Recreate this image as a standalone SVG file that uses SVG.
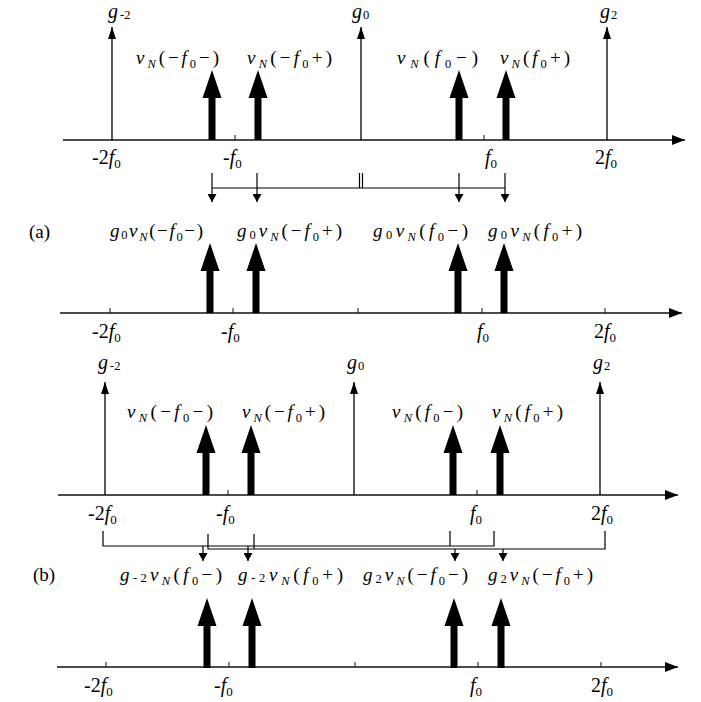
<svg xmlns="http://www.w3.org/2000/svg" xmlns:xlink="http://www.w3.org/1999/xlink" width="701" height="702" viewBox="0 0 701 702">
<style>
.ax{stroke:#111;stroke-width:1.3;fill:none}
.th{stroke:#000;stroke-width:1.3;fill:none}
.tk{stroke:#111;stroke-width:1;fill:none}
.cn{stroke:#000;stroke-width:1.2;fill:none}
text{font-family:"Liberation Serif","Times New Roman",serif;font-size:19px;fill:#000}
.g{font-size:20px}
.a{font-size:20px}
.i{font-style:italic}
.s{font-size:12.5px}
.s2{font-size:13px}
</style>
<defs>
<marker id="mAx" markerUnits="userSpaceOnUse" markerWidth="13" markerHeight="10" refX="13" refY="5" orient="auto"><path d="M0,0 L13,5 L0,10 Z" fill="#000"/></marker>
<marker id="mTh" markerUnits="userSpaceOnUse" markerWidth="12" markerHeight="8" refX="12" refY="4" orient="auto"><path d="M0,0 L12,4 L0,8 Z" fill="#000"/></marker>
<marker id="mDn" markerUnits="userSpaceOnUse" markerWidth="8" markerHeight="9" refX="8" refY="4.5" orient="auto"><path d="M0,0 L8,4.5 L0,9 Z" fill="#000"/></marker>
<path id="big" d="M0,0 L9.5,28 L3.5,28 L3.5,70 L-3.5,70 L-3.5,28 L-9.5,28 Z" fill="#000"/>
</defs>

<!-- ===== Panel 1 (top) ===== -->
<g id="axis1">
<line class="ax" x1="63" y1="140" x2="685" y2="140" marker-end="url(#mAx)"/>
<line class="tk" x1="235" y1="135" x2="235" y2="140"/>
<line class="tk" x1="484" y1="135" x2="484" y2="140"/>
<text class="a" x="92" y="164"><tspan>-2</tspan><tspan class="i">f</tspan><tspan class="s2" dy="4">0</tspan></text>
<text class="a" x="223" y="164"><tspan>-</tspan><tspan class="i">f</tspan><tspan class="s2" dy="4">0</tspan></text>
<text class="a" x="485" y="164"><tspan class="i">f</tspan><tspan class="s2" dy="4">0</tspan></text>
<text class="a" x="595" y="164"><tspan>2</tspan><tspan class="i">f</tspan><tspan class="s2" dy="4">0</tspan></text>
</g>
<g id="p1-gm2">
<line class="th" x1="112" y1="140" x2="112" y2="27" marker-end="url(#mTh)"/>
<text x="108" y="18"><tspan class="g i">g</tspan><tspan class="s" dx="2" dy="1">-2</tspan></text>
</g>
<g id="p1-g0">
<line class="th" x1="361" y1="140" x2="361" y2="27" marker-end="url(#mTh)"/>
<text x="352" y="18"><tspan class="g i">g</tspan><tspan class="s" dx="1" dy="1">0</tspan></text>
</g>
<g id="p1-g2">
<line class="th" x1="607" y1="140" x2="607" y2="27" marker-end="url(#mTh)"/>
<text x="600" y="18"><tspan class="g i">g</tspan><tspan class="s" dx="1" dy="1">2</tspan></text>
</g>
<g id="p1-vmm">
<use xlink:href="#big" x="212" y="70"/>
<text x="136" y="64" textLength="83"><tspan class="i">v</tspan><tspan class="s i" dy="4">N</tspan><tspan dy="-4">(−</tspan><tspan class="i">f</tspan><tspan class="s" dy="4">0</tspan><tspan dy="-4">−)</tspan></text>
</g>
<g id="p1-vmp">
<use xlink:href="#big" x="258" y="70"/>
<text x="247" y="64" textLength="85"><tspan class="i">v</tspan><tspan class="s i" dy="4">N</tspan><tspan dy="-4">(−</tspan><tspan class="i">f</tspan><tspan class="s" dy="4">0</tspan><tspan dy="-4">+)</tspan></text>
</g>
<g id="p1-vpm">
<use xlink:href="#big" x="459" y="70"/>
<text x="397" y="64" textLength="81"><tspan class="i">v</tspan><tspan class="s i" dy="4">N</tspan><tspan dy="-4">(</tspan><tspan class="i">f</tspan><tspan class="s" dy="4">0</tspan><tspan dy="-4">−)</tspan></text>
</g>
<g id="p1-vpp">
<use xlink:href="#big" x="506" y="70"/>
<text x="500" y="64" textLength="70"><tspan class="i">v</tspan><tspan class="s i" dy="4">N</tspan><tspan dy="-4">(</tspan><tspan class="i">f</tspan><tspan class="s" dy="4">0</tspan><tspan dy="-4">+)</tspan></text>
</g>

<!-- ===== Panel 2 (a result) ===== -->
<g id="label-a"><text x="29" y="238">(a)</text></g>
<g id="axis2">
<line class="ax" x1="60" y1="313" x2="682" y2="313" marker-end="url(#mAx)"/>
<line class="tk" x1="110" y1="308" x2="110" y2="313"/>
<line class="tk" x1="233" y1="308" x2="233" y2="313"/>
<line class="tk" x1="358" y1="308" x2="358" y2="313"/>
<line class="tk" x1="482" y1="308" x2="482" y2="313"/>
<line class="tk" x1="605" y1="308" x2="605" y2="313"/>
<text class="a" x="92" y="338"><tspan>-2</tspan><tspan class="i">f</tspan><tspan class="s2" dy="4">0</tspan></text>
<text class="a" x="221" y="338"><tspan>-</tspan><tspan class="i">f</tspan><tspan class="s2" dy="4">0</tspan></text>
<text class="a" x="477" y="338"><tspan class="i">f</tspan><tspan class="s2" dy="4">0</tspan></text>
<text class="a" x="594" y="338"><tspan>2</tspan><tspan class="i">f</tspan><tspan class="s2" dy="4">0</tspan></text>
</g>
<g id="p2-mm">
<use xlink:href="#big" x="210" y="243"/>
<text x="110" y="237" textLength="93"><tspan class="i">g</tspan><tspan class="s" dy="2">0</tspan><tspan class="i" dy="-2">v</tspan><tspan class="s i" dy="4">N</tspan><tspan dy="-4">(−</tspan><tspan class="i">f</tspan><tspan class="s" dy="4">0</tspan><tspan dy="-4">−)</tspan></text>
</g>
<g id="p2-mp">
<use xlink:href="#big" x="256" y="243"/>
<text x="237" y="237" textLength="105"><tspan class="i">g</tspan><tspan class="s" dy="2">0</tspan><tspan class="i" dy="-2">v</tspan><tspan class="s i" dy="4">N</tspan><tspan dy="-4">(−</tspan><tspan class="i">f</tspan><tspan class="s" dy="4">0</tspan><tspan dy="-4">+)</tspan></text>
</g>
<g id="p2-pm">
<use xlink:href="#big" x="458" y="243"/>
<text x="373" y="237" textLength="95"><tspan class="i">g</tspan><tspan class="s" dy="2">0</tspan><tspan class="i" dy="-2">v</tspan><tspan class="s i" dy="4">N</tspan><tspan dy="-4">(</tspan><tspan class="i">f</tspan><tspan class="s" dy="4">0</tspan><tspan dy="-4">−)</tspan></text>
</g>
<g id="p2-pp">
<use xlink:href="#big" x="504" y="243"/>
<text x="488" y="237" textLength="94"><tspan class="i">g</tspan><tspan class="s" dy="2">0</tspan><tspan class="i" dy="-2">v</tspan><tspan class="s i" dy="4">N</tspan><tspan dy="-4">(</tspan><tspan class="i">f</tspan><tspan class="s" dy="4">0</tspan><tspan dy="-4">+)</tspan></text>
</g>

<!-- ===== Panel 3 (b source) ===== -->
<g id="axis3">
<line class="ax" x1="58" y1="495" x2="678" y2="495" marker-end="url(#mAx)"/>
<line class="tk" x1="228" y1="490" x2="228" y2="495"/>
<line class="tk" x1="477" y1="490" x2="477" y2="495"/>
<text class="a" x="88" y="520"><tspan>-2</tspan><tspan class="i">f</tspan><tspan class="s2" dy="4">0</tspan></text>
<text class="a" x="216" y="520"><tspan>-</tspan><tspan class="i">f</tspan><tspan class="s2" dy="4">0</tspan></text>
<text class="a" x="470" y="520"><tspan class="i">f</tspan><tspan class="s2" dy="4">0</tspan></text>
<text class="a" x="591" y="520"><tspan>2</tspan><tspan class="i">f</tspan><tspan class="s2" dy="4">0</tspan></text>
</g>
<g id="p3-gm2">
<line class="th" x1="105" y1="495" x2="105" y2="382" marker-end="url(#mTh)"/>
<text x="98" y="369"><tspan class="g i">g</tspan><tspan class="s" dx="2" dy="1">-2</tspan></text>
</g>
<g id="p3-g0">
<line class="th" x1="354" y1="495" x2="354" y2="382" marker-end="url(#mTh)"/>
<text x="347" y="369"><tspan class="g i">g</tspan><tspan class="s" dx="1" dy="1">0</tspan></text>
</g>
<g id="p3-g2">
<line class="th" x1="600" y1="495" x2="600" y2="382" marker-end="url(#mTh)"/>
<text x="593" y="369"><tspan class="g i">g</tspan><tspan class="s" dx="1" dy="1">2</tspan></text>
</g>
<g id="p3-vmm">
<use xlink:href="#big" x="206" y="425"/>
<text x="127" y="418" textLength="86"><tspan class="i">v</tspan><tspan class="s i" dy="4">N</tspan><tspan dy="-4">(−</tspan><tspan class="i">f</tspan><tspan class="s" dy="4">0</tspan><tspan dy="-4">−)</tspan></text>
</g>
<g id="p3-vmp">
<use xlink:href="#big" x="251" y="425"/>
<text x="242" y="418" textLength="83"><tspan class="i">v</tspan><tspan class="s i" dy="4">N</tspan><tspan dy="-4">(−</tspan><tspan class="i">f</tspan><tspan class="s" dy="4">0</tspan><tspan dy="-4">+)</tspan></text>
</g>
<g id="p3-vpm">
<use xlink:href="#big" x="453" y="425"/>
<text x="392" y="418" textLength="71"><tspan class="i">v</tspan><tspan class="s i" dy="4">N</tspan><tspan dy="-4">(</tspan><tspan class="i">f</tspan><tspan class="s" dy="4">0</tspan><tspan dy="-4">−)</tspan></text>
</g>
<g id="p3-vpp">
<use xlink:href="#big" x="500" y="425"/>
<text x="492" y="418" textLength="71"><tspan class="i">v</tspan><tspan class="s i" dy="4">N</tspan><tspan dy="-4">(</tspan><tspan class="i">f</tspan><tspan class="s" dy="4">0</tspan><tspan dy="-4">+)</tspan></text>
</g>

<!-- ===== Panel 4 (b result) ===== -->
<g id="label-b"><text x="33" y="581">(b)</text></g>
<g id="axis4">
<line class="ax" x1="57" y1="667" x2="678" y2="667" marker-end="url(#mAx)"/>
<line class="tk" x1="106" y1="662" x2="106" y2="667"/>
<line class="tk" x1="229" y1="662" x2="229" y2="667"/>
<line class="tk" x1="355" y1="662" x2="355" y2="667"/>
<line class="tk" x1="478" y1="662" x2="478" y2="667"/>
<line class="tk" x1="601" y1="662" x2="601" y2="667"/>
<text class="a" x="84" y="692"><tspan>-2</tspan><tspan class="i">f</tspan><tspan class="s2" dy="4">0</tspan></text>
<text class="a" x="214" y="692"><tspan>-</tspan><tspan class="i">f</tspan><tspan class="s2" dy="4">0</tspan></text>
<text class="a" x="470" y="692"><tspan class="i">f</tspan><tspan class="s2" dy="4">0</tspan></text>
<text class="a" x="591" y="692"><tspan>2</tspan><tspan class="i">f</tspan><tspan class="s2" dy="4">0</tspan></text>
</g>
<g id="p4-1">
<use xlink:href="#big" x="207" y="598"/>
<text x="120" y="581" textLength="102"><tspan class="i">g</tspan><tspan class="s" dy="1">-2</tspan><tspan class="i" dy="-1">v</tspan><tspan class="s i" dy="4">N</tspan><tspan dy="-4">(</tspan><tspan class="i">f</tspan><tspan class="s" dy="4">0</tspan><tspan dy="-4">−)</tspan></text>
</g>
<g id="p4-2">
<use xlink:href="#big" x="252" y="598"/>
<text x="238" y="581" textLength="105"><tspan class="i">g</tspan><tspan class="s" dy="1">-2</tspan><tspan class="i" dy="-1">v</tspan><tspan class="s i" dy="4">N</tspan><tspan dy="-4">(</tspan><tspan class="i">f</tspan><tspan class="s" dy="4">0</tspan><tspan dy="-4">+)</tspan></text>
</g>
<g id="p4-3">
<use xlink:href="#big" x="454" y="598"/>
<text x="363" y="581" textLength="105"><tspan class="i">g</tspan><tspan class="s" dy="2">2</tspan><tspan class="i" dy="-2">v</tspan><tspan class="s i" dy="4">N</tspan><tspan dy="-4">(−</tspan><tspan class="i">f</tspan><tspan class="s" dy="4">0</tspan><tspan dy="-4">−)</tspan></text>
</g>
<g id="p4-4">
<use xlink:href="#big" x="501" y="598"/>
<text x="488" y="581" textLength="105"><tspan class="i">g</tspan><tspan class="s" dy="2">2</tspan><tspan class="i" dy="-2">v</tspan><tspan class="s i" dy="4">N</tspan><tspan dy="-4">(−</tspan><tspan class="i">f</tspan><tspan class="s" dy="4">0</tspan><tspan dy="-4">+)</tspan></text>
</g>

<!-- ===== Connectors ===== -->
<g id="connectors">
<path class="cn" d="M212,188 H505"/>
<line class="cn" x1="212" y1="173" x2="212" y2="202" marker-end="url(#mDn)"/>
<line class="cn" x1="257" y1="173" x2="257" y2="202" marker-end="url(#mDn)"/>
<line class="cn" x1="459" y1="173" x2="459" y2="202" marker-end="url(#mDn)"/>
<line class="cn" x1="505" y1="173" x2="505" y2="202" marker-end="url(#mDn)"/>
<line class="cn" x1="359.5" y1="173" x2="359.5" y2="188"/>
<line class="cn" x1="362.5" y1="173" x2="362.5" y2="188"/>

<path class="cn" d="M103,531 V546 H494 V531 M450,531 V546"/>
<path class="cn" d="M208,534 V549 H605 V531 M254,534 V549"/>
<line class="cn" x1="203" y1="546" x2="203" y2="561" marker-end="url(#mDn)"/>
<line class="cn" x1="248" y1="546" x2="248" y2="561" marker-end="url(#mDn)"/>
<line class="cn" x1="455" y1="549" x2="455" y2="561" marker-end="url(#mDn)"/>
<line class="cn" x1="503" y1="549" x2="503" y2="561" marker-end="url(#mDn)"/>
</g>
</svg>
